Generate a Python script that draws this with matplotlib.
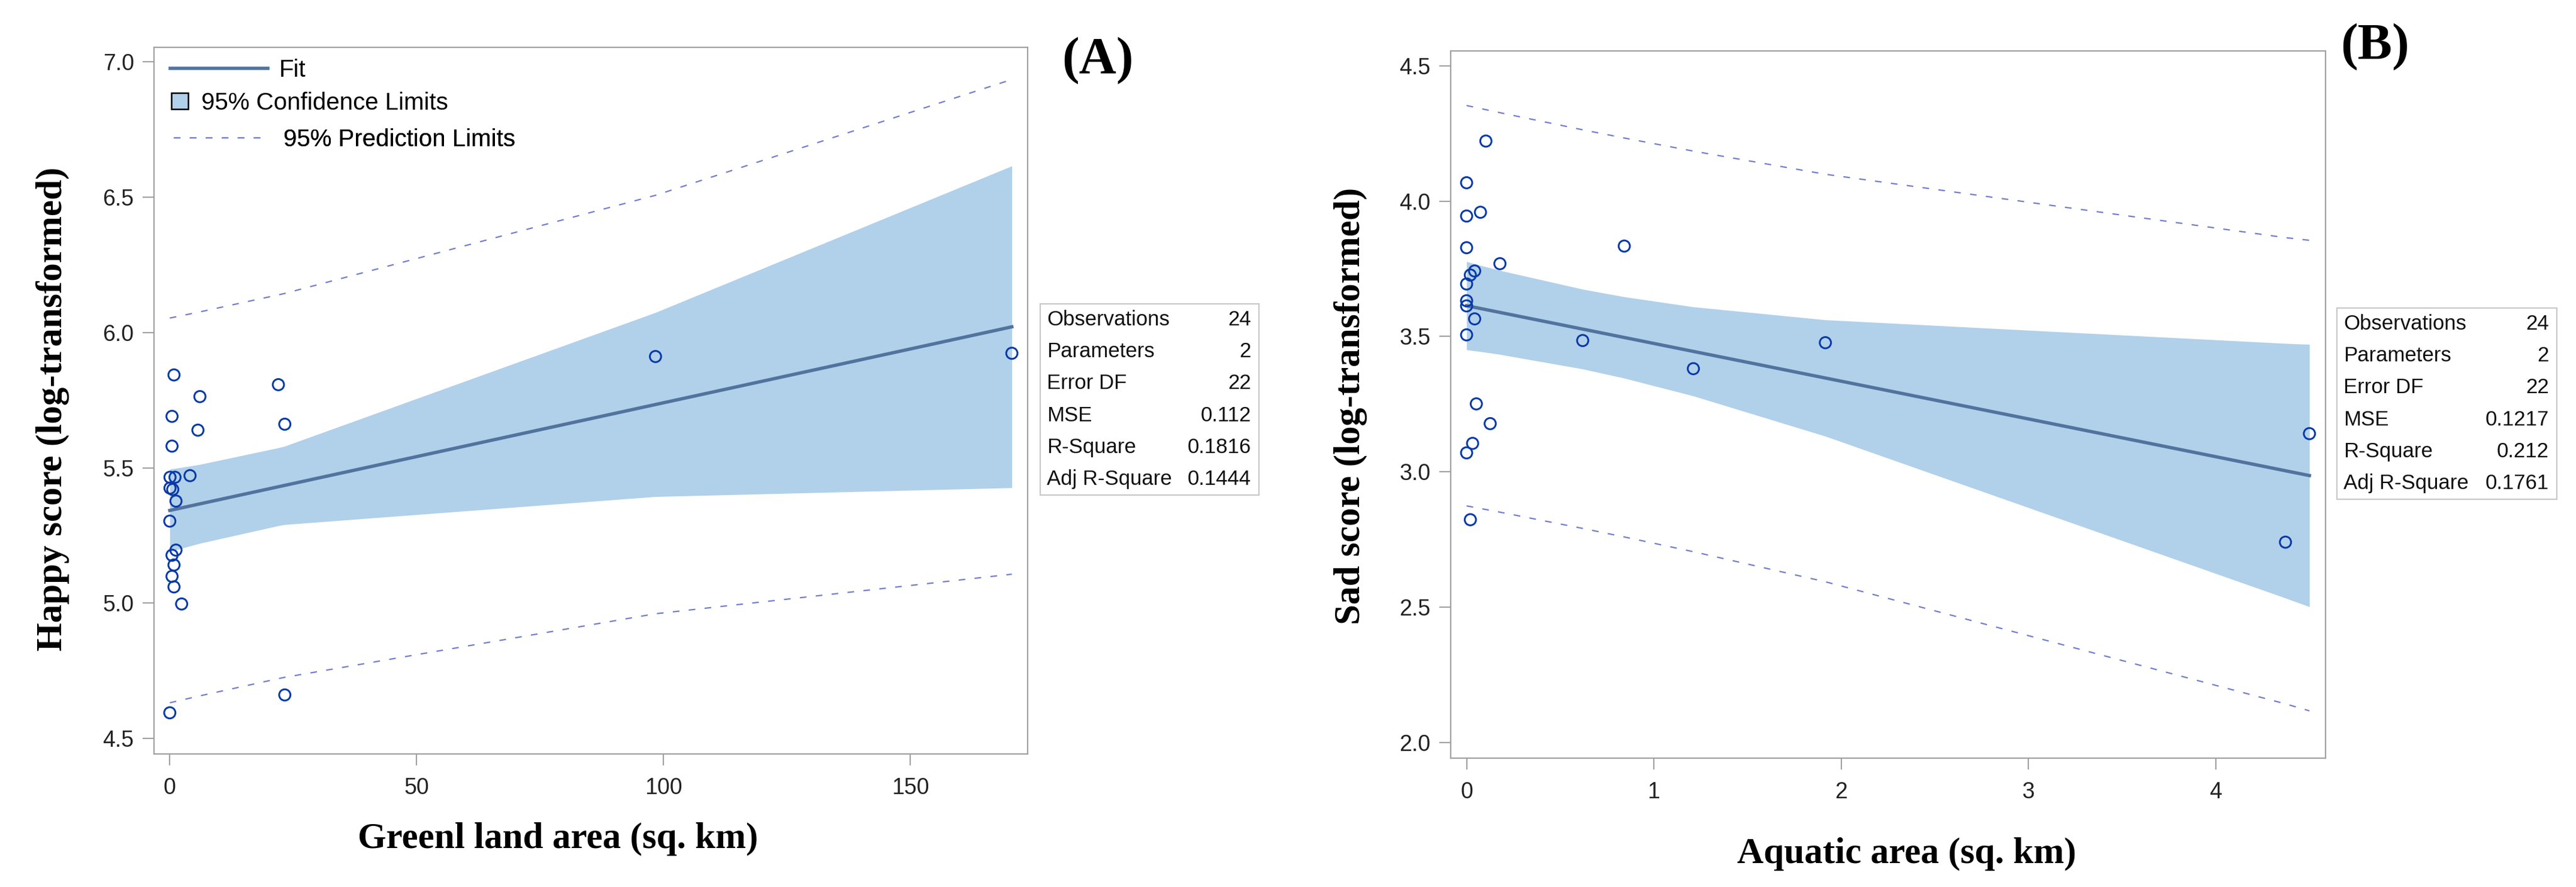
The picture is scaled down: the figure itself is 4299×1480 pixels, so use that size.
import numpy as np
import matplotlib
matplotlib.use("Agg")
import matplotlib.pyplot as plt
from matplotlib.lines import Line2D
from matplotlib.patches import Patch, Rectangle

# ---------------- data ----------------
# panel A : green land area vs happy score
green_area = [0.85, 6.1, 22.0, 0.45, 5.7, 23.3, 0.45, 0.04, 1.05, 4.1, 0.04, 0.6,
              1.25, 0.0, 1.25, 0.45, 0.85, 0.45, 0.85, 2.4, 23.3, 0.0, 98.4, 170.6]
happy_score = [5.843, 5.763, 5.807, 5.690, 5.639, 5.661, 5.580, 5.465, 5.465, 5.471, 5.425, 5.420,
               5.377, 5.303, 5.196, 5.177, 5.141, 5.099, 5.060, 4.997, 4.661, 4.595, 5.911, 5.923]

# panel B : aquatic area vs sad score
aquatic_area = [0.103, 0.0, 0.0, 0.074, 0.0, 0.842, 0.178, 0.043, 0.02, 0.0, 0.0, 0.0,
                0.043, 0.0, 0.62, 1.211, 1.916, 0.052, 0.126, 0.032, 0.0, 0.02, 4.501, 4.373]
sad_score = [4.222, 4.068, 3.945, 3.959, 3.828, 3.834, 3.769, 3.742, 3.727, 3.694, 3.632, 3.613,
             3.565, 3.506, 3.485, 3.381, 3.477, 3.251, 3.178, 3.105, 3.070, 2.823, 3.141, 2.740]

stat_names = ["Observations", "Parameters", "Error DF", "MSE", "R-Square", "Adj R-Square"]
stats_a = ["24", "2", "22", "0.112", "0.1816", "0.1444"]
stats_b = ["24", "2", "22", "0.1217", "0.212", "0.1761"]

T_CRIT = 2.0739  # t(0.975, 22)

W, H = 4299, 1480
FILL = "#b1d0ea"
FIT_COL = "#52739d"
PRED_COL = "#717dcc"
PT_COL = "#0a3aa8"
FRAME = "#a0a0a0"
DASH = (0, (5, 7))


def fit_bands(x, y):
    x = np.asarray(x, float)
    y = np.asarray(y, float)
    n = len(x)
    b1, b0 = np.polyfit(x, y, 1)
    mse = np.sum((y - (b0 + b1 * x)) ** 2) / (n - 2)
    xbar = x.mean()
    sxx = np.sum((x - xbar) ** 2)
    xs = np.unique(x)
    yhat = b0 + b1 * xs
    se_m = np.sqrt(mse * (1.0 / n + (xs - xbar) ** 2 / sxx))
    se_p = np.sqrt(mse * (1.0 + 1.0 / n + (xs - xbar) ** 2 / sxx))
    return xs, yhat, yhat - T_CRIT * se_m, yhat + T_CRIT * se_m, yhat - T_CRIT * se_p, yhat + T_CRIT * se_p


def px_box(l, t, r, b):
    return [l / W, 1 - b / H, (r - l) / W, (b - t) / H]


def draw_panel(ax, x, y):
    xs, yhat, clo, chi, plo, phi = fit_bands(x, y)
    ax.fill_between(xs, clo, chi, color=FILL, lw=0, zorder=1)
    ax.plot(xs, plo, color=PRED_COL, lw=1.6, ls=DASH, zorder=2)
    ax.plot(xs, phi, color=PRED_COL, lw=1.6, ls=DASH, zorder=2)
    ax.plot(xs, yhat, color=FIT_COL, lw=4.0, zorder=3)
    ax.scatter(x, y, s=13.5 ** 2, facecolors="none", edgecolors=PT_COL, linewidths=2.2, zorder=4)

    for sp in ax.spines.values():
        sp.set_color(FRAME)
        sp.set_linewidth(1.6)
    ax.tick_params(direction="out", length=14, width=1.5, color=FRAME,
                   labelsize=27, labelcolor="#222222")
    ax.tick_params(axis="x", pad=14)
    ax.tick_params(axis="y", pad=10)


def stats_table(fig, names, vals, left, top, right, bottom):
    fig.patches.append(Rectangle((left / W, 1 - bottom / H), (right - left) / W, (bottom - top) / H,
                                 transform=fig.transFigure, fill=False, ec="#c8c8c8", lw=1.6))
    row_h = (bottom - top) / len(names)
    for i, (nm, v) in enumerate(zip(names, vals)):
        yc = 1 - (top + row_h * (i + 0.5)) / H
        fig.text((left + 11) / W, yc, nm, ha="left", va="center", fontsize=25,
                 family="Liberation Sans", color="#111111")
        fig.text((right - 13) / W, yc, v, ha="right", va="center", fontsize=25,
                 family="Liberation Sans", color="#111111")


fig = plt.figure(figsize=(W / 100, H / 100), dpi=100)
fig.patch.set_facecolor("white")

# ---------------- (A) ----------------
ax1 = fig.add_axes(px_box(257, 79, 1715, 1258))
draw_panel(ax1, green_area, happy_score)
ax1.set_xlim(-3.2, 173.8)
ax1.set_ylim(4.443, 7.053)
ax1.set_xticks([0, 50, 100, 150])
ax1.set_yticks([4.5, 5.0, 5.5, 6.0, 6.5, 7.0])
ax1.set_yticklabels(["4.5", "5.0", "5.5", "6.0", "6.5", "7.0"], family="Liberation Sans")
ax1.set_xticklabels(["0", "50", "100", "150"], family="Liberation Sans")
ax1.set_xlabel("Greenl land area (sq. km)", family="Liberation Serif", weight="bold", fontsize=44)
ax1.xaxis.set_label_coords(0.462, -0.097)
ax1.set_ylabel("Happy score (log-transformed)", family="Liberation Serif", weight="bold", fontsize=44)
ax1.yaxis.set_label_coords(-0.097, 0.488)

# legend entries, each one placed on its own row like the SAS legend
leg_font = {"family": "Liberation Sans", "size": 29}
legs = [
    (Line2D([], [], color=FIT_COL, lw=4.0), "Fit", 284, 117, 4.05, 0.47),
    (Patch(facecolor=FILL, edgecolor="black", lw=1.8), "95% Confidence Limits", 286, 172, 0.7, 0.55),
    (Line2D([], [], color=PRED_COL, lw=1.6, ls=DASH), "95% Prediction Limits", 290, 233, 3.75, 0.8),
]
for handle, text, lx, ly, hl, hp in legs:
    lg = ax1.legend([handle], [text], loc="center left", bbox_to_anchor=(lx / W, 1 - ly / H),
                    bbox_transform=fig.transFigure, frameon=False, prop=leg_font,
                    borderpad=0, borderaxespad=0, handlelength=hl, handleheight=0.65,
                    handletextpad=hp)
    ax1.add_artist(lg)

stats_table(fig, stat_names, stats_a, 1736, 507, 2101, 826)
fig.text(1832 / W, 1 - 101 / H, "(A)", ha="center", va="center", fontsize=62,
         family="Liberation Serif", weight="bold")

# ---------------- (B) ----------------
ax2 = fig.add_axes(px_box(2421, 85, 3881, 1265))
draw_panel(ax2, aquatic_area, sad_score)
ax2.set_xlim(-0.085, 4.587)
ax2.set_ylim(1.942, 4.555)
ax2.set_xticks([0, 1, 2, 3, 4])
ax2.set_yticks([2.0, 2.5, 3.0, 3.5, 4.0, 4.5])
ax2.set_yticklabels(["2.0", "2.5", "3.0", "3.5", "4.0", "4.5"], family="Liberation Sans")
ax2.set_xticklabels(["0", "1", "2", "3", "4"], family="Liberation Sans")
ax2.set_xlabel("Aquatic area (sq. km)", family="Liberation Serif", weight="bold", fontsize=44)
ax2.xaxis.set_label_coords(0.521, -0.112)
ax2.set_ylabel("Sad score (log-transformed)", family="Liberation Serif", weight="bold", fontsize=44)
ax2.yaxis.set_label_coords(-0.095, 0.498)

stats_table(fig, stat_names, stats_b, 3900, 514, 4267, 833)
fig.text(3964 / W, 1 - 78 / H, "(B)", ha="center", va="center", fontsize=62,
         family="Liberation Serif", weight="bold")

fig.savefig("out.png", dpi=100)
print("done")
